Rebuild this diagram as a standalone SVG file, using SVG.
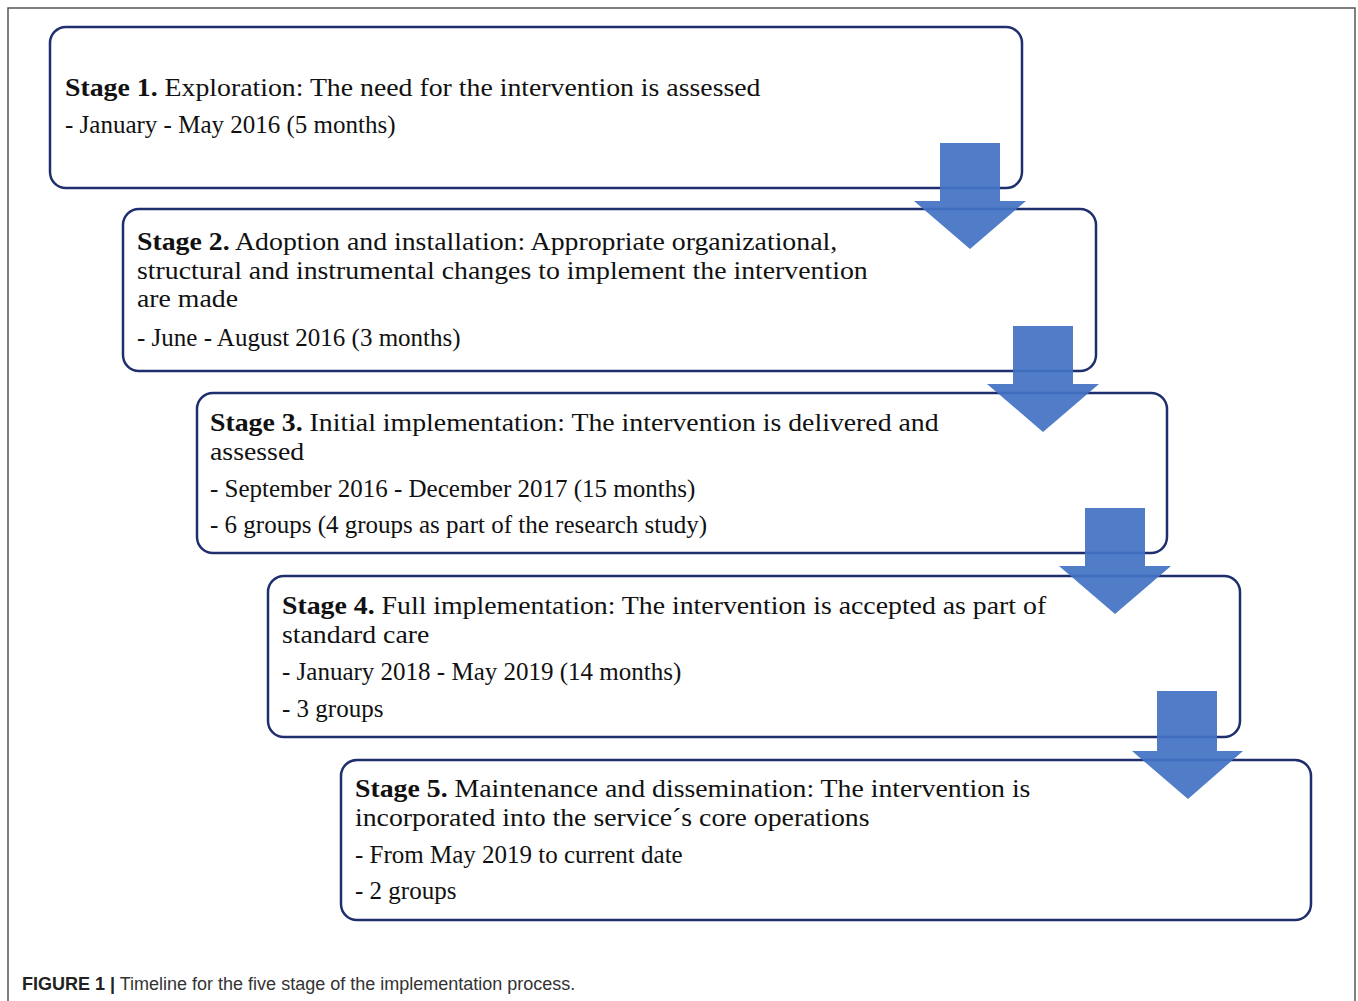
<svg xmlns="http://www.w3.org/2000/svg" width="1358" height="1001" viewBox="0 0 1358 1001">
<style>
.box{fill:#fff;stroke:#1f2f6e;stroke-width:2.5}
.t{font-family:"Liberation Serif","Times New Roman",serif;font-size:25px;fill:#111}
.d{font-family:"Liberation Serif","Times New Roman",serif;font-size:25px;fill:#111}
.b{font-weight:bold}
.arr{fill:#4472c4;fill-opacity:0.93}
.cap{font-family:"Liberation Sans",Arial,sans-serif;font-size:18px;fill:#333}
</style>
<rect x="0" y="0" width="1358" height="1001" fill="#fff"/>
<path d="M8 1001 V8 H1355 V1001" fill="none" stroke="#555" stroke-width="1.5"/>
<g id="stage1">
<rect class="box" x="50" y="27" width="972" height="161" rx="16"/>
<g transform="translate(65 0) scale(1.112 1)">
<text class="t" x="0" y="96"><tspan class="b">Stage 1.</tspan> Exploration: The need for the intervention is assessed</text>
</g>
<text class="d" x="65" y="133">- January - May 2016 (5 months)</text>
</g>
<g id="stage2">
<rect class="box" x="123" y="209" width="973" height="162" rx="16"/>
<g transform="translate(137 0) scale(1.112 1)">
<text class="t" x="0" y="250"><tspan class="b">Stage 2.</tspan> Adoption and installation: Appropriate organizational,</text>
<text class="t" x="0" y="279">structural and instrumental changes to implement the intervention</text>
<text class="t" x="0" y="307">are made</text>
</g>
<text class="d" x="137" y="346">- June - August 2016 (3 months)</text>
</g>
<g id="stage3">
<rect class="box" x="197" y="393" width="970" height="160" rx="16"/>
<g transform="translate(210 0) scale(1.112 1)">
<text class="t" x="0" y="431"><tspan class="b">Stage 3.</tspan> Initial implementation: The intervention is delivered and</text>
<text class="t" x="0" y="460">assessed</text>
</g>
<text class="d" x="210" y="497">- September 2016 - December 2017 (15 months)</text>
<text class="d" x="210" y="533">- 6 groups (4 groups as part of the research study)</text>
</g>
<g id="stage4">
<rect class="box" x="268" y="576" width="972" height="161" rx="16"/>
<g transform="translate(282 0) scale(1.112 1)">
<text class="t" x="0" y="614"><tspan class="b">Stage 4.</tspan> Full implementation: The intervention is accepted as part of</text>
<text class="t" x="0" y="643">standard care</text>
</g>
<text class="d" x="282" y="680">- January 2018 - May 2019 (14 months)</text>
<text class="d" x="282" y="717">- 3 groups</text>
</g>
<g id="stage5">
<rect class="box" x="341" y="760" width="970" height="160" rx="16"/>
<g transform="translate(355 0) scale(1.112 1)">
<text class="t" x="0" y="797"><tspan class="b">Stage 5.</tspan> Maintenance and dissemination: The intervention is</text>
<text class="t" x="0" y="826">incorporated into the service´s core operations</text>
</g>
<text class="d" x="355" y="863">- From May 2019 to current date</text>
<text class="d" x="355" y="899">- 2 groups</text>
</g>
<g id="connectors">
<path class="arr" d="M940 143 H1000 V201 H1026 L970 249 L914 201 H940 Z"/>
<path class="arr" d="M1013 326 H1073 V384 H1099 L1043 432 L987 384 H1013 Z"/>
<path class="arr" d="M1085 508 H1145 V566 H1171 L1115 614 L1059 566 H1085 Z"/>
<path class="arr" d="M1157 691 H1217 V751 H1243 L1188 799 L1132 751 H1157 Z"/>
</g>
<text class="cap" x="22" y="990"><tspan font-weight="bold" fill="#222">FIGURE 1 |</tspan> Timeline for the five stage of the implementation process.</text>
</svg>
